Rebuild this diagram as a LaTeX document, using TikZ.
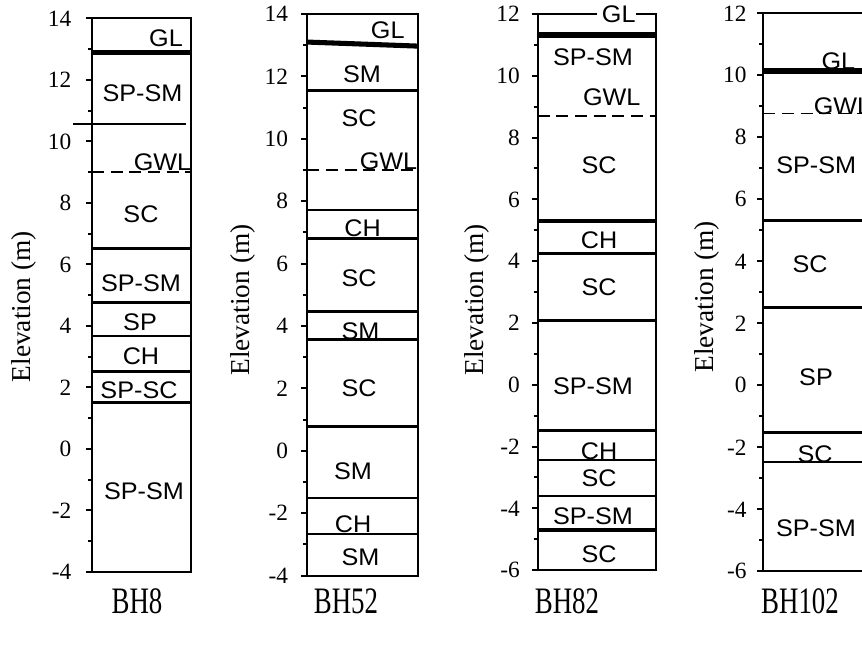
\documentclass[tikz,border=0pt]{standalone}
\usepackage{fontspec}
\setmainfont{Liberation Serif}
\newfontfamily\soilfam[FakeStretch=1.05]{Liberation Sans}
\newfontfamily\bhfam[FakeStretch=0.72]{Liberation Serif}
\begin{document}
\begin{tikzpicture}[
  frameline/.style={line width=1.5pt},
  lthin/.style={line width=1.6pt},
  lthick/.style={line width=2.4pt},
  lgl/.style={line width=3.8pt},
  gwl/.style={line width=1.3pt, dash pattern=on 9pt off 5pt},
  soil/.style={font=\soilfam\fontsize{18}{20}\selectfont, inner sep=0pt},
  ticklab/.style={font=\fontsize{17.5}{19}\selectfont, inner sep=0pt, anchor=east},
  ylab/.style={font=\fontsize{20.5}{23}\selectfont, rotate=90, inner sep=0pt},
  bhlab/.style={font=\bhfam\fontsize{28}{30}\selectfont, inner sep=0pt},
  tickline/.style={line width=1.5pt},
]
\useasboundingbox (0,0) rectangle (646.5pt,489pt);

% ---------------- BH8 ----------------
\begin{scope}[x=0.75pt, y=23.0625pt, yshift=152.25pt]
  \foreach \e in {-4,-2,...,14} {\draw[tickline] (86,\e) -- (92,\e);
    \node[ticklab] (ta\e) at (71.5,\e) {\e};}
  \foreach \e in {-3,-1,...,13} \draw[tickline] (88,\e) -- (92,\e);
  \draw[frameline] (92,-4) rectangle (191,14);
  \draw[lgl] (92,12.9) -- (191,12.9);
  \draw[lthin] (73,10.57) -- (186,10.57);
  \draw[gwl] (92,9.0) -- (191,9.0);
  \draw[lthin] (92,6.52) -- (191,6.52);
  \draw[lthick] (92,4.77) -- (191,4.77);
  \draw[lthin] (92,3.68) -- (191,3.68);
  \draw[lthin] (92,2.52) -- (191,2.52);
  \draw[lthick] (92,1.51) -- (191,1.51);
\end{scope}

% ---------------- BH52 ----------------
\begin{scope}[x=0.75pt, y=23.4pt, yshift=150.9pt]
  \foreach \e in {-4,-2,...,14} {\draw[tickline] (301.3,\e) -- (307.3,\e);
    \node[ticklab] (tb\e) at (288.3,\e) {\e};}
  \foreach \e in {-3,-1,...,13} \draw[tickline] (303.3,\e) -- (307.3,\e);
  \draw[frameline] (307.3,-4) rectangle (418.3,14);
  \draw[lgl] (307.3,13.1) -- (418.3,12.97);
  \draw[lthick] (307.3,11.54) -- (418.3,11.54);
  \draw[gwl] (307.3,9.0) -- (418.3,9.0);
  \draw[lthin] (307.3,7.72) -- (418.3,7.72);
  \draw[lthick] (307.3,6.8) -- (418.3,6.8);
  \draw[lthick] (307.3,4.46) -- (418.3,4.46);
  \draw[lthick] (307.3,3.57) -- (418.3,3.57);
  \draw[lthick] (307.3,0.77) -- (418.3,0.77);
  \draw[lthin] (307.3,-1.52) -- (418.3,-1.52);
  \draw[lthin] (307.3,-2.67) -- (418.3,-2.67);
\end{scope}

% ---------------- BH82 ----------------
\begin{scope}[x=0.75pt, y=23.175pt, yshift=200.4pt]
  \foreach \e in {-6,-4,...,12} {\draw[tickline] (531.7,\e) -- (537.7,\e);
    \node[ticklab] (tc\e) at (520,\e) {\e};}
  \foreach \e in {-5,-3,...,11} \draw[tickline] (533.7,\e) -- (537.7,\e);
  \draw[frameline] (596.7,12) -- (537.7,12) -- (537.7,-6) -- (656,-6) -- (656,12) -- (636,12);
  \draw[lgl] (537.7,11.32) -- (656,11.32);
  \draw[gwl] (537.7,8.71) -- (656,8.71);
  \draw[lthick] (537.7,5.3) -- (656,5.3);
  \draw[lthick] (537.7,4.26) -- (656,4.26);
  \draw[lthick] (537.7,2.07) -- (656,2.07);
  \draw[lthick] (537.7,-1.49) -- (656,-1.49);
  \draw[lthin] (537.7,-2.43) -- (656,-2.43);
  \draw[lthin] (537.7,-3.6) -- (656,-3.6);
  \draw[lthick] (537.7,-4.7) -- (656,-4.7);
\end{scope}

% ---------------- BH102 ----------------
\begin{scope}[x=0.75pt, y=23.25pt, yshift=200pt]
  \foreach \e in {-6,-4,...,12} {\draw[tickline] (757.3,\e) -- (763.3,\e);
    \node[ticklab] (td\e) at (746.7,\e) {\e};}
  \foreach \e in {-5,-3,...,11} \draw[tickline] (759.3,\e) -- (763.3,\e);
  \draw[frameline] (870,12) -- (763.3,12) -- (763.3,-6) -- (870,-6);
  \draw[lgl] (763.3,10.14) -- (870,10.14);
  \draw[gwl] (763.3,8.77) -- (870,8.77);
  \draw[lthick] (763.3,5.31) -- (870,5.31);
  \draw[lthick] (763.3,2.5) -- (870,2.5);
  \draw[lthin] (763.3,-1.52) -- (870,-1.52);
  \draw[lthin] (763.3,-2.46) -- (870,-2.46);
\end{scope}

% ---------------- labels (pixel coordinates) ----------------
\begin{scope}[x=0.75pt, y=-0.75pt, yshift=489pt]
  % BH8
  \node[soil] (a1) at (166,38.7) {GL};
  \node[soil] (a2) at (142.5,93) {SP-SM};
  \node[soil] (a3) at (162.5,162.7) {GWL};
  \node[soil] (a4) at (141,214) {SC};
  \node[soil] (a5) at (141,283) {SP-SM};
  \node[soil] (a6) at (140,322.5) {SP};
  \node[soil] (a7) at (141,356) {CH};
  \node[soil] (a8) at (139,390) {SP-SC};
  \node[soil] (a9) at (144,491.7) {SP-SM};
  % BH52
  \node[soil] (b1) at (387.7,30.5) {GL};
  \node[soil] (b2) at (362,74.7) {SM};
  \node[soil] (b3) at (359,118) {SC};
  \node[soil] (b4) at (388.5,161) {GWL};
  \node[soil] (b5) at (362.5,228) {CH};
  \node[soil] (b6) at (359,278) {SC};
  \node[soil] (b7) at (360.5,331.7) {SM};
  \node[soil] (b8) at (359,388) {SC};
  \node[soil] (b9) at (353,471) {SM};
  \node[soil] (b10) at (353,524) {CH};
  \node[soil] (b11) at (360.5,557) {SM};
  % BH82
  \node[soil] (c1) at (618.7,14.5) {GL};
  \node[soil] (c2) at (593,57) {SP-SM};
  \node[soil] (c3) at (611.7,97.5) {GWL};
  \node[soil] (c4) at (599,165.3) {SC};
  \node[soil] (c5) at (599,240) {CH};
  \node[soil] (c6) at (599,287) {SC};
  \node[soil] (c7) at (593,386) {SP-SM};
  \node[soil] (c8) at (599,451) {CH};
  \node[soil] (c9) at (599,478) {SC};
  \node[soil] (c10) at (593,516) {SP-SM};
  \node[soil] (c11) at (599,554) {SC};
  % BH102
  \node[soil] (d1) at (838.3,60.8) {GL};
  \node[soil, anchor=west] (d2) at (813.5,105.8) {GWL};
  \node[soil] (d3) at (816.2,165) {SP-SM};
  \node[soil] (d4) at (810,263.8) {SC};
  \node[soil] (d5) at (816,377) {SP};
  \node[soil] (d6) at (815,454) {SC};
  \node[soil] (d7) at (816,528.7) {SP-SM};
  % axis titles
  \node[ylab] (ya) at (24,306.7) {Elevation (m)};
  \node[ylab] (yb) at (243,300) {Elevation (m)};
  \node[ylab] (yc) at (477,300) {Elevation (m)};
  \node[ylab] (yd) at (707,297) {Elevation (m)};
  % borehole names
  \node[bhlab] (n1) at (137,601) {BH8};
  \node[bhlab] (n2) at (346,601) {BH52};
  \node[bhlab] (n3) at (567,601) {BH82};
  \node[bhlab] (n4) at (800,601) {BH102};
\end{scope}
\end{tikzpicture}
\end{document}
